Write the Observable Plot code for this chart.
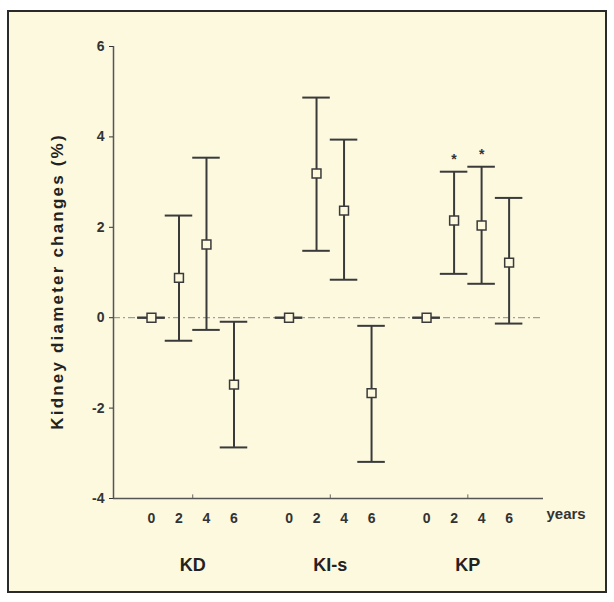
<!DOCTYPE html>
<html><head><meta charset="utf-8">
<script src="https://cdn.jsdelivr.net/npm/d3@7"></script>
<script src="https://cdn.jsdelivr.net/npm/@observablehq/plot@0.6"></script>
<style>
html,body{margin:0;padding:0;background:#ffffff;}
#panel{position:absolute;left:7px;top:10px;width:600px;height:583px;box-sizing:border-box;border:2px solid #2a2a2a;background:#fcf9df;}
#panel svg{position:absolute;left:0;top:0;}
#panel text{font-weight:bold;}
</style></head><body><div id="panel"></div>
<script>
// ---- data ----
const groups = ["KD", "KI-s", "KP"];
const years = [0, 2, 4, 6];
const kdMean = [0, 0.88, 1.62, -1.48];
const kdLow  = [0, -0.51, -0.27, -2.87];
const kdHigh = [0, 2.26, 3.54, -0.09];
const kisMean = [0, 3.19, 2.37, -1.67];
const kisLow  = [0, 1.48, 0.84, -3.19];
const kisHigh = [0, 4.87, 3.94, -0.18];
const kpMean = [0, 2.15, 2.04, 1.22];
const kpLow  = [0, 0.97, 0.75, -0.13];
const kpHigh = [0, 3.23, 3.34, 2.65];
const kdSig = ["", "", "", ""];
const kisSig = ["", "", "", ""];
const kpSig = ["", "*", "*", ""];
const yTicks = [-4, -2, 0, 2, 4, 6];
const yLabel = "Kidney diameter changes (%)";
const xUnit = "years";

// ---- layout ----
const GAP = 10; // spacing between groups, in year units
const xDomain = [-2.76, 28.5];
const means = [kdMean, kisMean, kpMean];
const lows = [kdLow, kisLow, kpLow];
const highs = [kdHigh, kisHigh, kpHigh];
const sigs = [kdSig, kisSig, kpSig];

const rows = [];
groups.forEach((g, gi) => years.forEach((yr, yi) => rows.push({
  group: g, year: yr, pos: gi * GAP + yr,
  mean: means[gi][yi], low: lows[gi][yi], high: highs[gi][yi], sig: sigs[gi][yi]
})));
const yearAt = new Map(rows.map(d => [d.pos, d.year]));
const ink = "#3a3a3a";
const bg = "#fcf9df";

const chart = Plot.plot({
  width: 596, height: 579,
  marginLeft: 104, marginRight: 62, marginTop: 34, marginBottom: 93,
  x: {domain: xDomain},
  y: {domain: [-4, 6]},
  style: {background: "transparent", fontFamily: "Liberation Sans, Arial, sans-serif", overflow: "visible", color: "#333"},
  marks: [
    Plot.ruleY([0], {stroke: "#8a8a8a", strokeWidth: 1, strokeDasharray: "7,3,2,3"}),
    Plot.ruleX([xDomain[0]], {stroke: "#555", strokeWidth: 1.5}),
    Plot.ruleY([-4], {stroke: "#555", strokeWidth: 1.5}),
    Plot.axisY({ticks: yTicks, tickFormat: d => String(d), tickSize: 4, tickPadding: 5, fontSize: 14, label: null, color: "#333"}),
    Plot.axisX({ticks: rows.map(d => d.pos), tickFormat: d => String(yearAt.get(d)), tickSize: 0, tickPadding: 15, fontSize: 14, label: null, color: "#333"}),
    Plot.ruleX(groups, {x: (d, i) => i * GAP + 3, y1: () => -4, y2: () => -3.92, stroke: "#666"}),
    Plot.ruleX(rows, {x: "pos", y1: "low", y2: "high", stroke: ink, strokeWidth: 2}),
    Plot.ruleY(rows, {y: "low", x1: d => d.pos - 1, x2: d => d.pos + 1, stroke: ink, strokeWidth: 2}),
    Plot.ruleY(rows, {y: "high", x1: d => d.pos - 1, x2: d => d.pos + 1, stroke: ink, strokeWidth: 2}),
    Plot.dot(rows, {x: "pos", y: "mean", symbol: "square", r: 5, stroke: ink, strokeWidth: 1.5, fill: bg}),
    Plot.text(rows.filter(d => d.sig), {x: "pos", y: "high", text: "sig", dy: -12, fontSize: 14, fill: "#333"}),
    Plot.text(groups, {x: (d, i) => i * GAP + 3, y: () => -4, text: d => d, dy: 67, fontSize: 18, fill: "#222"}),
    Plot.text([xUnit], {frameAnchor: "bottom-right", text: d => d, textAnchor: "start", dx: 3, dy: 20, fontSize: 15, fill: "#333"}),
    Plot.text([yLabel], {frameAnchor: "left", textAnchor: "middle", text: d => d, rotate: -90, dx: -56, dy: 9, fontSize: 17, fill: "#222"})
  ]
});
for (const t of chart.querySelectorAll("text")) {
  if (t.textContent === yLabel) t.style.letterSpacing = "2.2px";
}
document.getElementById("panel").appendChild(chart);
</script>
</body></html>
